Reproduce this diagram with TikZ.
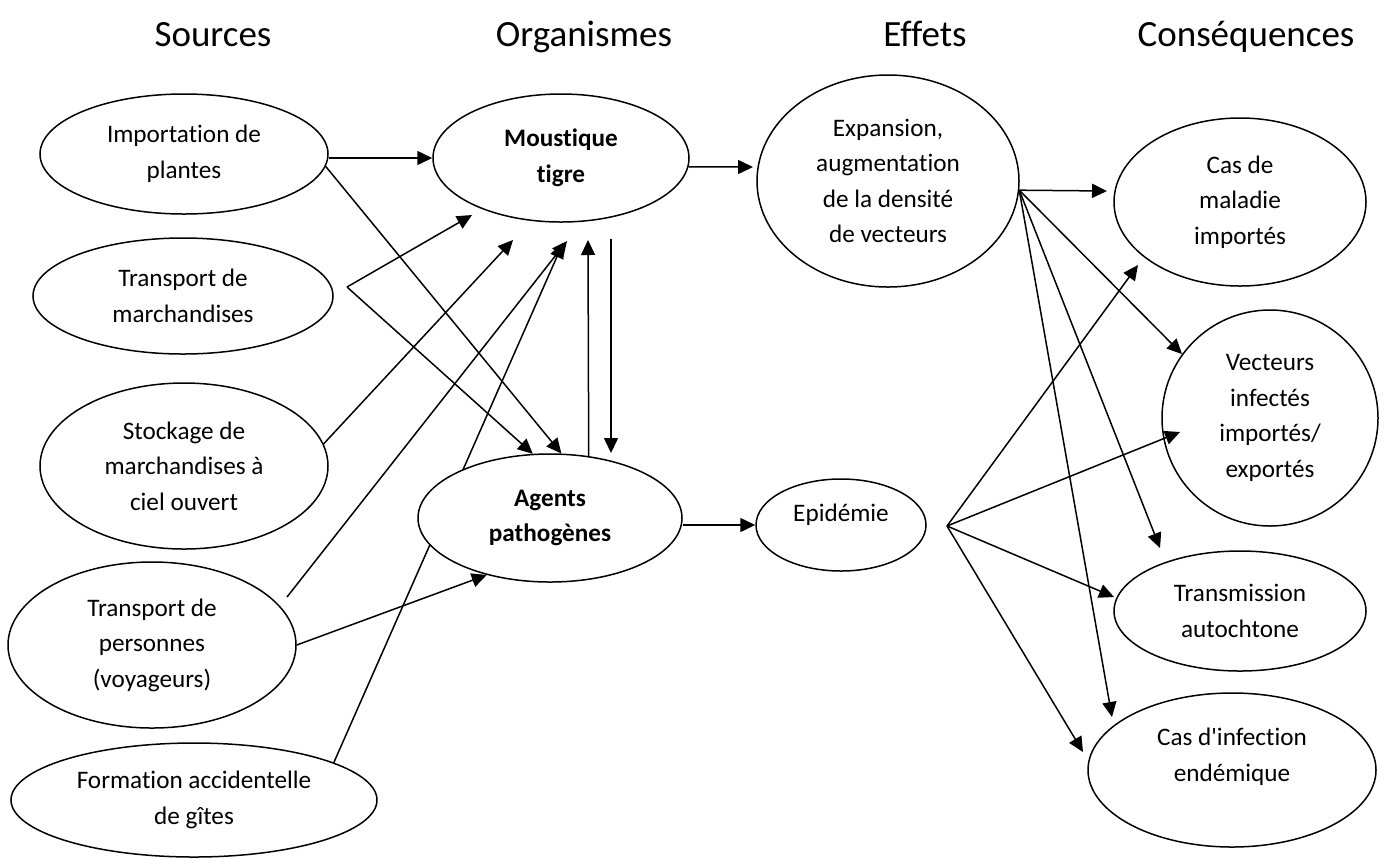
\documentclass[tikz,border=0pt]{standalone}
\usepackage{fontspec}
\setmainfont{Carlito}[Ligatures={NoCommon}]
\usetikzlibrary{shapes.geometric,arrows.meta}
\pgfdeclarelayer{bg}
\pgfsetlayers{bg,main}
\newcommand\bodyfnt{\fontsize{12.6}{17.75}\selectfont}
\newcommand\headfnt{\fontsize{18.5}{22}\selectfont}
\tikzset{
  oval/.style={draw, ellipse, line width=0.75pt, fill=white, inner sep=0pt, align=center, font=\bodyfnt},
  lbl/.style={align=center, font=\bodyfnt, inner sep=0pt},
  head/.style={anchor=base, font=\headfnt, inner sep=0pt},
  arr/.style={line width=0.75pt, -{Triangle[length=7.5pt,width=7pt]}},
}
\begin{document}
\begin{tikzpicture}[x=0.5pt,y=-0.5pt]
\useasboundingbox (0,0) rectangle (1385,858);
% headers
\node[head] (h1) at (213,46) {Sources};
\node[head] (h2) at (584,46) {Organismes};
\node[head] (h3) at (925,46) {Effets};
\node[head] (h4) at (1246,46) {Conséquences};
% sources
\node[oval, minimum width=144pt, minimum height=60pt] (imp) at (184,154) {Importation de\\plantes};
\node[oval, minimum width=150pt, minimum height=58pt] (tm) at (183,296) {Transport de\\marchandises};
\node[oval, minimum width=144pt, minimum height=83pt] (sto) at (184,466) {Stockage de\\marchandises à\\ciel ouvert};
\node[oval, minimum width=144pt, minimum height=83pt] (tp) at (152,645) {Transport de\\personnes\\(voyageurs)};
\node[oval, minimum width=183pt, minimum height=57pt] (form) at (194,800) {Formation accidentelle\\de gîtes};
% organismes
\node[oval, minimum width=128pt, minimum height=64pt, font=\bodyfnt\bfseries] (mous) at (561,158) {Moustique\\tigre};
\node[oval, minimum width=132pt, minimum height=64pt, font=\bodyfnt\bfseries] (agents) at (550,518) {Agents\\pathogènes};
% effets
\node[oval, minimum width=131pt, minimum height=106pt] (exp) at (888,181) {Expansion,\\augmentation\\de la densité\\de vecteurs};
\node[oval, minimum width=85pt, minimum height=46pt, label={[lbl, yshift=5pt]center:Epidémie}] (epi) at (841,525) {};
% consequences
\node[oval, minimum width=126pt, minimum height=84pt] (cas) at (1240,202) {Cas de\\maladie\\importés};
\node[oval, minimum width=108pt, minimum height=108pt] (vec) at (1270,418) {Vecteurs\\infectés\\importés/\\exportés};
\node[oval, minimum width=126pt, minimum height=60pt] (trans) at (1240,611) {Transmission\\autochtone};
\node[oval, minimum width=144pt, minimum height=77pt, label={[lbl, yshift=6.5pt]center:Cas d\textquotesingle infection\\endémique}] (endem) at (1232,770) {};
% free points
\coordinate (tmo) at (347,287);
\coordinate (t-tm) at (472,215);
\coordinate (t-sto) at (513,240);
\coordinate (s-tp) at (287,597);
\coordinate (t-tp) at (567,241);
\coordinate (t-form) at (563,243);
\coordinate (t-up) at (588,240);
\coordinate (s-dn) at (611,239);
\coordinate (t-dn) at (611,453);
\coordinate (t-mx) at (753,167);
\coordinate (t-ecas) at (1107,191);
\coordinate (t-etr) at (1160,548);
\coordinate (t-een) at (1112,717);
\coordinate (epo) at (947,526);
\coordinate (t-pcas) at (1138,265);
\coordinate (t-pvec) at (1180,432);
\coordinate (t-ptr) at (1114,597);
\coordinate (t-pen) at (1083,752);
% connectors
\begin{pgfonlayer}{bg}
\draw[arr] (form.15) -- (t-form);
\end{pgfonlayer}
\draw[arr] (imp.east |- mous.west) -- (mous.west);
\draw[arr] (imp.-5) -- (agents.80);
\draw[arr] (tmo) -- (t-tm);
\draw[arr] (tmo) -- (agents.105);
\draw[arr] (sto.9) -- (t-sto);
\draw[arr] (s-tp) -- (t-tp);
\draw[arr] (tp.east) -- (agents.222);
\draw[arr] (agents.58) -- (t-up);
\draw[arr] (s-dn) -- (t-dn);
\draw[arr] (mous.-4) -- (t-mx);
\draw[arr] (agents.east |- epi.west) -- (epi.west);
\draw[arr] (exp.-4) -- (t-ecas);
\draw[arr] (exp.-4) -- (vec.144);
\draw[arr] (exp.-4) -- (t-etr);
\draw[arr] (exp.-4) -- (t-een);
\draw[arr] (epo) -- (t-pcas);
\draw[arr] (epo) -- (t-pvec);
\draw[arr] (epo) -- (t-ptr);
\draw[arr] (epo) -- (t-pen);
\end{tikzpicture}
\end{document}
